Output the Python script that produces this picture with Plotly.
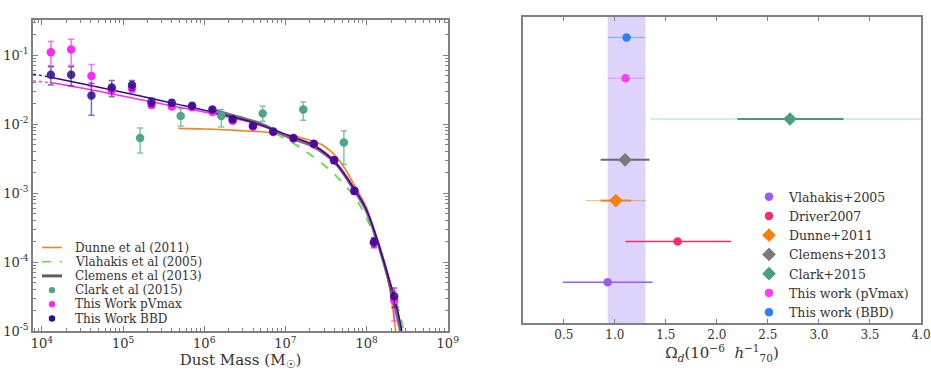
import numpy as np
import plotly.graph_objects as go

# ---------------- Left panel data (dust mass function) ----------------
bin_logM = [4.11, 4.36, 4.61, 4.86, 5.11, 5.35, 5.60, 5.85, 6.10, 6.35,
            6.60, 6.85, 7.10, 7.35, 7.60, 7.85, 8.09, 8.34]
pvmax_phi = [0.110, 0.121, 0.050, 0.031, 0.033, 0.019, 0.018, 0.0175, 0.0150, 0.0112,
             0.0092, 0.0077, 0.0062, 0.0051, 0.0030, 0.00106, 0.000190, 0.000028]
pvmax_ep = [0.048, 0.049, 0.023, 0.004, 0.004, 0.002, 0.0015, 0.0012, 0.0010, 0.0008,
            0.0006, 0.0005, 0.0004, 0.0004, 0.0003, 0.00010, 0.000030, 0.000010]
pvmax_em = [0.040, 0.050, 0.015, 0.004, 0.004, 0.002, 0.0015, 0.0012, 0.0010, 0.0008,
            0.0006, 0.0005, 0.0004, 0.0004, 0.0003, 0.00010, 0.000030, 0.000014]
bbd_phi = [0.052, 0.052, 0.026, 0.034, 0.037, 0.021, 0.0204, 0.0185, 0.0163, 0.0118,
           0.0095, 0.0078, 0.0063, 0.0052, 0.0030, 0.00108, 0.000195, 0.000032]
bbd_ep = [0.016, 0.016, 0.013, 0.009, 0.006, 0.003, 0.002, 0.0015, 0.0012, 0.0008,
          0.0006, 0.0005, 0.0004, 0.0004, 0.0003, 0.00010, 0.000030, 0.000010]
bbd_em = [0.015, 0.016, 0.0125, 0.009, 0.006, 0.003, 0.002, 0.0015, 0.0012, 0.0008,
          0.0006, 0.0005, 0.0004, 0.0004, 0.0003, 0.00010, 0.000030, 0.000010]

clark_logM = [5.21, 5.71, 6.21, 6.72, 7.22, 7.72]
clark_phi = [0.0063, 0.0131, 0.0131, 0.0143, 0.0163, 0.0054]
clark_ep = [0.0025, 0.0036, 0.0032, 0.0039, 0.0047, 0.0026]
clark_em = [0.0025, 0.0037, 0.0040, 0.0033, 0.0049, 0.0028]

# Fitted curves (log10 M, log10 phi)
bbd_fit_logM = [4.12, 4.60, 5.20, 5.69, 6.20, 6.60, 7.04, 7.35, 7.61, 7.86, 7.99, 8.11, 8.27, 8.39, 8.44]
bbd_fit_logphi = [-1.323, -1.44, -1.59, -1.717, -1.855, -1.975, -2.165, -2.31, -2.55, -2.96, -3.22, -3.60, -4.22, -4.75, -5.05]
bbd_ext_logM = [3.89, 4.12]
bbd_ext_logphi = [-1.275, -1.323]
pv_fit_logM = [4.12, 4.60, 5.20, 5.69, 6.20, 6.60, 7.04, 7.35, 7.61, 7.86, 7.99, 8.11, 8.27, 8.39, 8.44]
pv_fit_logphi = [-1.40, -1.50, -1.642, -1.754, -1.875, -1.985, -2.17, -2.30, -2.54, -2.95, -3.21, -3.59, -4.21, -4.74, -5.05]
pv_ext_logM = [3.89, 4.12]
pv_ext_logphi = [-1.372, -1.40]
dunne_logM = [5.68, 6.00, 6.40, 6.88, 7.17, 7.45, 7.66, 7.87, 7.99, 8.11, 8.27, 8.36]
dunne_logphi = [-2.062, -2.07, -2.09, -2.13, -2.19, -2.30, -2.52, -2.93, -3.19, -3.61, -4.30, -5.02]
vlah_logM = [6.88, 7.04, 7.17, 7.29, 7.45, 7.57, 7.72, 7.84, 7.96, 8.11, 8.27, 8.41, 8.46]
vlah_logphi = [-2.14, -2.24, -2.33, -2.43, -2.57, -2.69, -2.87, -3.03, -3.27, -3.66, -4.22, -4.75, -5.02]
clem_logM = [6.10, 6.43, 6.71, 7.04, 7.35, 7.61, 7.86, 7.99, 8.11, 8.27, 8.42]
clem_logphi = [-1.79, -1.90, -2.00, -2.19, -2.33, -2.56, -2.98, -3.24, -3.62, -4.25, -5.02]

left_xtickvals = [1e4, 1e5, 1e6, 1e7, 1e8, 1e9]
left_xticktext = ["10<sup>4</sup>", "10<sup>5</sup>", "10<sup>6</sup>", "10<sup>7</sup>", "10<sup>8</sup>", "10<sup>9</sup>"]
left_ytickvals = [1e-5, 1e-4, 1e-3, 1e-2, 1e-1]
left_yticktext = ["10<sup>-5</sup>", "10<sup>-4</sup>", "10<sup>-3</sup>", "10<sup>-2</sup>", "10<sup>-1</sup>"]

left_legend_names = ["Dunne et al (2011)", "Vlahakis et al (2005)", "Clemens et al (2013)",
                     "Clark et al (2015)", "This Work pVmax", "This Work BBD"]

# ---------------- Right panel data (Omega_d) ----------------
omega_names = ["Vlahakis+2005", "Driver2007", "Dunne+2011", "Clemens+2013",
               "Clark+2015", "This work (pVmax)", "This work (BBD)"]
omega_val = [0.93, 1.615, 1.01, 1.10, 2.716, 1.105, 1.115]
omega_err_lo = [0.44, 0.51, 0.15, 0.24, 0.516, 0.175, 0.185]
omega_err_hi = [0.44, 0.525, 0.15, 0.24, 0.524, 0.185, 0.185]
omega_row = [1, 2, 3, 4, 5, 6, 7]
omega_wide_names = ["Dunne+2011", "Clark+2015"]
omega_wide_lo = [0.30, 1.366]
omega_wide_hi = [0.30, 1.90]
band_range = [0.93, 1.30]
right_xticks = [0.5, 1.0, 1.5, 2.0, 2.5, 3.0, 3.5, 4.0]

# ---------------- Styles ----------------
FONT = "DejaVu Serif"
C_PV = "#ff2bf5"
C_BBD = "#2e0a8c"
C_CLARK = "#4ea68a"
C_DUNNE = "#f5821f"
C_VLAH = "#5fdc4f"
C_CLEM = "rgba(90,90,90,0.85)"
omega_colors = ["#9a5cf2", "#ee2f6c", "#f5800e", "#7a7a7a", "#4aa07e", "#ff3ff0", "#2f80f5"]
omega_symbols = ["circle", "circle", "diamond", "diamond", "diamond", "circle", "circle"]
omega_err_colors = ["#9a5cf2", "#ee2f6c", "#f5800e", "#6a6a6a", "#4a9a7a",
                    "rgba(255,80,240,0.55)", "rgba(60,130,245,0.55)"]
omega_err_widths = [1.5, 1.5, 2, 2, 2, 1, 1]
omega_wide_colors = ["rgba(245,128,14,0.55)", "rgba(74,160,126,0.45)"]

W, H = 931, 370
fig = go.Figure()

def p10(a):
    return list(np.power(10.0, np.array(a, dtype=float)))

# curves
fig.add_trace(go.Scatter(x=p10(pv_ext_logM), y=p10(pv_ext_logphi), mode="lines",
                         line=dict(color=C_PV, width=1.3, dash="dot"), showlegend=False))
fig.add_trace(go.Scatter(x=p10(bbd_ext_logM), y=p10(bbd_ext_logphi), mode="lines",
                         line=dict(color=C_BBD, width=1.3, dash="dot"), showlegend=False))
fig.add_trace(go.Scatter(x=p10(dunne_logM), y=p10(dunne_logphi), mode="lines", showlegend=False,
                         line=dict(color=C_DUNNE, width=1.6, shape="spline")))
fig.add_trace(go.Scatter(x=p10(vlah_logM), y=p10(vlah_logphi), mode="lines", showlegend=False,
                         line=dict(color=C_VLAH, width=1.8, dash="dash", shape="spline")))
fig.add_trace(go.Scatter(x=p10(clem_logM), y=p10(clem_logphi), mode="lines", showlegend=False,
                         line=dict(color=C_CLEM, width=3, shape="spline")))
fig.add_trace(go.Scatter(x=p10(pv_fit_logM), y=p10(pv_fit_logphi), mode="lines", showlegend=False,
                         line=dict(color=C_PV, width=1.5, shape="spline")))
fig.add_trace(go.Scatter(x=p10(bbd_fit_logM), y=p10(bbd_fit_logphi), mode="lines", showlegend=False,
                         line=dict(color=C_BBD, width=1.5, shape="spline")))

# points
fig.add_trace(go.Scatter(x=p10(clark_logM), y=clark_phi, mode="markers", showlegend=False,
                         marker=dict(color=C_CLARK, size=8.5),
                         error_y=dict(type="data", array=clark_ep, arrayminus=clark_em,
                                      color="rgba(78,166,138,0.7)", thickness=1.5, width=3)))
fig.add_trace(go.Scatter(x=p10(bin_logM), y=pvmax_phi, mode="markers", showlegend=False,
                         marker=dict(color=C_PV, size=8.5),
                         error_y=dict(type="data", array=pvmax_ep, arrayminus=pvmax_em,
                                      color="rgba(255,43,245,0.7)", thickness=1.5, width=3)))
fig.add_trace(go.Scatter(x=p10(bin_logM), y=bbd_phi, mode="markers", showlegend=False,
                         marker=dict(color=C_BBD, size=8.5, opacity=0.85),
                         error_y=dict(type="data", array=bbd_ep, arrayminus=bbd_em,
                                      color="rgba(46,10,140,0.6)", thickness=1.5, width=3)))

# manual legend for left panel (compact spacing like the reference)
leg_x0, leg_y0, leg_dy = 42, 247.5, 14.2
leg_styles = [("line", C_DUNNE, "solid", 1.6), ("line", C_VLAH, "dash", 1.6), ("line", "#606060", "solid", 3),
              ("dot", C_CLARK, None, None), ("dot", C_PV, None, None), ("dot", C_BBD, None, None)]
for k, name in enumerate(left_legend_names):
    yk = leg_y0 + k * leg_dy
    kind, col, dash, wd = leg_styles[k]
    if kind == "line":
        fig.add_shape(type="line", xref="paper", yref="paper",
                      x0=leg_x0 / W, x1=(leg_x0 + 20) / W, y0=1 - yk / H, y1=1 - yk / H,
                      line=dict(color=col, width=wd, dash=dash))
    else:
        r = 3.2
        fig.add_shape(type="circle", xref="paper", yref="paper",
                      x0=(leg_x0 + 10 - r) / W, x1=(leg_x0 + 10 + r) / W,
                      y0=1 - (yk + r) / H, y1=1 - (yk - r) / H,
                      fillcolor=col, line=dict(width=0))
    fig.add_annotation(x=(leg_x0 + 31) / W, y=1 - yk / H, xref="paper", yref="paper",
                       text=name, showarrow=False, xanchor="left", yanchor="middle",
                       font=dict(size=12, family=FONT, color="#333"))

# ---------------- Right panel ----------------
for i, nm in enumerate(omega_wide_names):
    j = omega_names.index(nm)
    fig.add_trace(go.Scatter(x=[omega_val[j]], y=[omega_row[j]], mode="markers",
                             marker=dict(size=1, opacity=0), showlegend=False, hoverinfo="skip",
                             error_x=dict(type="data", array=[omega_wide_hi[i]], arrayminus=[omega_wide_lo[i]],
                                          color=omega_wide_colors[i], thickness=1, width=0),
                             xaxis="x2", yaxis="y2"))

for j, nm in enumerate(omega_names):
    fig.add_trace(go.Scatter(x=[omega_val[j]], y=[omega_row[j]], mode="markers", name=nm,
                             marker=dict(color=omega_colors[j], symbol=omega_symbols[j],
                                         size=10.5 if omega_symbols[j] == "diamond" else 8.5),
                             error_x=dict(type="data", array=[omega_err_hi[j]], arrayminus=[omega_err_lo[j]],
                                          color=omega_err_colors[j], thickness=omega_err_widths[j], width=0),
                             xaxis="x2", yaxis="y2", showlegend=True))

fig.add_shape(type="rect", xref="x2", yref="y2 domain", x0=band_range[0], x1=band_range[1],
              y0=0, y1=1, fillcolor="rgba(165,140,245,0.38)", line=dict(width=0), layer="below")

axis_line = dict(showline=True, linecolor="#808080", linewidth=1.5, mirror="allticks",
                 ticks="inside", tickcolor="#808080", showgrid=False, zeroline=False,
                 automargin=False)

fig.update_layout(
    width=W, height=H,
    margin=dict(l=0, r=0, t=0, b=0, autoexpand=False),
    paper_bgcolor="white", plot_bgcolor="white",
    font=dict(family=FONT, color="#333333", size=12),
    xaxis=dict(type="log", domain=[33 / W, 448 / W], range=[3.89, 9.003],
               tickmode="array", tickvals=left_xtickvals, ticktext=left_xticktext,
               tickfont=dict(size=13), ticklen=5,
               minor=dict(ticks="inside", ticklen=3, tickcolor="#808080", dtick="D1", showgrid=False),
               title=dict(text="Dust Mass (M<sub>☉</sub>)", font=dict(size=15), standoff=4),
               anchor="y", **axis_line),
    yaxis=dict(type="log", domain=[1 - 331 / H, 1 - 20 / H], range=[-5, -0.49],
               tickmode="array", tickvals=left_ytickvals, ticktext=left_yticktext,
               tickfont=dict(size=13), ticklen=5,
               minor=dict(ticks="inside", ticklen=3, tickcolor="#808080", dtick="D1", showgrid=False),
               anchor="x", **axis_line),
    xaxis2=dict(domain=[523 / W, 921 / W], range=[0.1, 4.0],
                tickmode="array", tickvals=right_xticks, ticktext=[f"{v:.1f}" for v in right_xticks],
                tickfont=dict(size=12), ticklen=4,
                title=dict(text="Ω<sub><i>d</i></sub>(10<sup>−6</sup>  <i>h</i><sup>−1</sup><sub>70</sub>)",
                           font=dict(size=15), standoff=4),
                anchor="y2", **axis_line),
    yaxis2=dict(domain=[1 - 323 / H, 1 - 17 / H], range=[0, 7.5], showticklabels=False,
                showline=True, linecolor="#808080", linewidth=1.5, mirror=True,
                ticks="", showgrid=False, zeroline=False, anchor="x2", automargin=False),
    legend=dict(x=749 / W, y=1 - 182 / H, xanchor="left", yanchor="top",
                bgcolor="rgba(0,0,0,0)", font=dict(size=12.5, family=FONT, color="#333"),
                tracegroupgap=0, itemwidth=30),
    showlegend=True,
)

fig.write_html("out.html")
